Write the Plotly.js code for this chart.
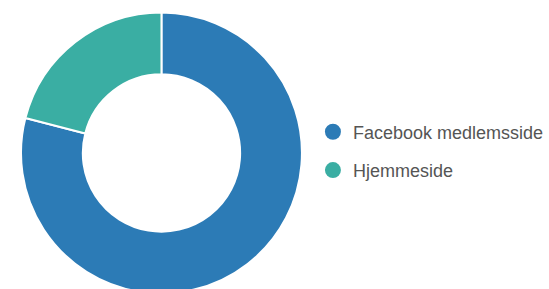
<!DOCTYPE html>
<html><head><meta charset="utf-8">
<script src="https://cdn.plot.ly/plotly-3.0.1.min.js"></script>
<style>html,body{margin:0;padding:0;overflow:hidden;background:#fff}</style>
</head><body>
<div id="chart"></div>
<script>
const labels = ["Facebook medlemsside", "Hjemmeside"];
const values = [79, 21];
const colors = ["#2c7bb6", "#3aaea3"];

const traces = [{
  type: "pie",
  labels: labels,
  values: values,
  hole: 0.56,
  sort: false,
  direction: "clockwise",
  rotation: 0,
  textinfo: "none",
  hoverinfo: "label+percent",
  marker: {colors: colors, line: {color: "#ffffff", width: 2}},
  domain: {x: [0, 282/528], y: [0, 1]},
  showlegend: false
}];
labels.forEach((l, i) => {
  traces.push({
    type: "scatter", mode: "markers", x: [null], y: [null],
    name: l, legendgroup: "g" + i,
    marker: {color: colors[i], size: 18, symbol: "circle"},
    showlegend: true
  });
});

const layout = {
  width: 549, height: 300,
  margin: {l: 21, r: 0, t: 12, b: 6},
  paper_bgcolor: "#ffffff", plot_bgcolor: "#ffffff",
  xaxis: {visible: false}, yaxis: {visible: false},
  showlegend: true,
  legend: {
    x: 0.555, y: 0.64, xanchor: "left", yanchor: "top",
    font: {family: "Liberation Sans, Arial, sans-serif", size: 18, color: "#555555"},
    tracegroupgap: 12, traceorder: "grouped",
    itemclick: false
  }
};
Plotly.newPlot("chart", traces, layout, {displayModeBar: false, staticPlot: true});
</script>
</body></html>
